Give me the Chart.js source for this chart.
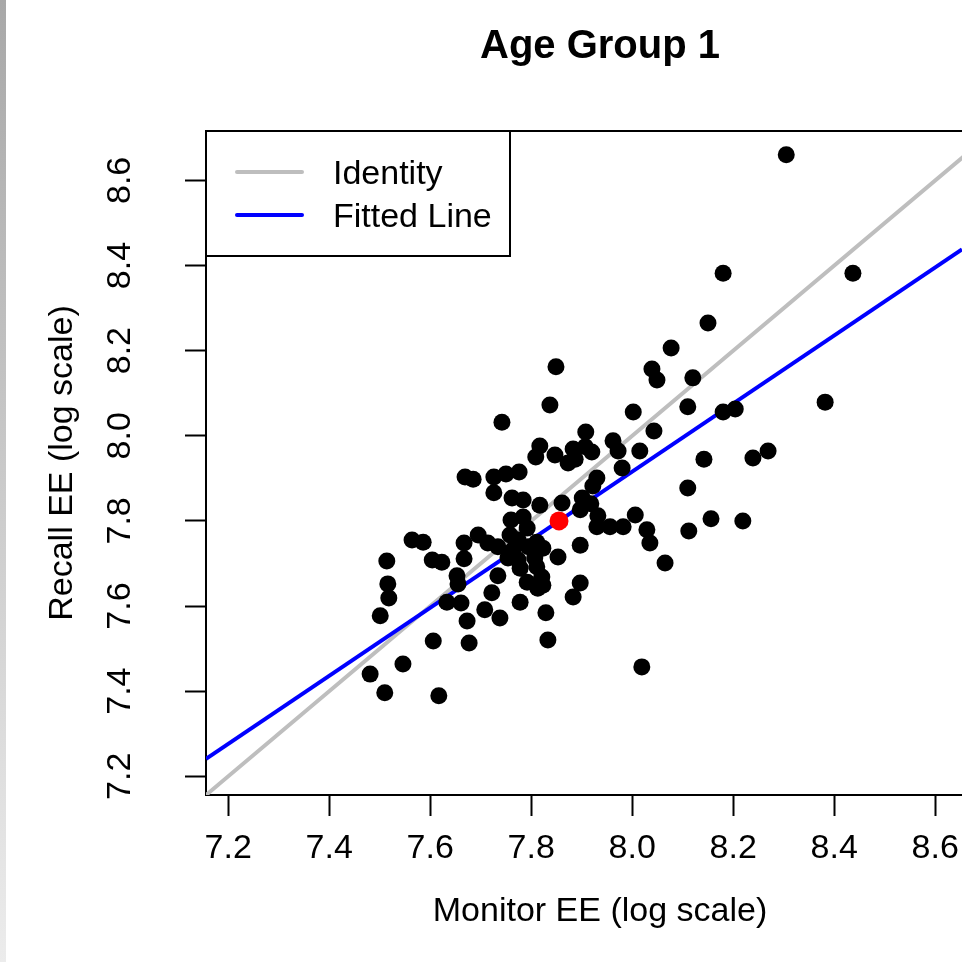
<!DOCTYPE html>
<html lang="en">
<head>
    <meta charset="UTF-8">
    <title>Age Group 1</title>
    <script src="https://cdn.jsdelivr.net/npm/chart.js"></script>
    <style>
        html, body {
            margin: 0;
            padding: 0;
            background: #fff;
        }
        canvas {
            display: block;
        }
    </style>
</head>
<body>
    <canvas id="myChart" width="962" height="962"></canvas>

    <script>
        // values (log scale)
        const monitorEE = [
            8.305, 8.437, 8.180, 8.150, 8.077, 7.849, 8.039, 8.049, 8.120, 7.837,
            7.742, 8.382, 8.180, 8.204, 8.110, 8.002, 8.043, 7.908, 7.817, 7.809,
            7.847, 7.883, 7.907, 7.920, 7.887, 7.873, 7.962, 7.972, 8.015, 8.142,
            8.239, 8.269, 7.980, 7.930, 7.922, 8.110, 7.669, 7.685, 7.726, 7.750,
            7.776, 7.726, 7.762, 7.784, 7.817, 7.861, 7.901, 7.918, 7.897, 7.932,
            7.760, 7.784, 7.792, 8.006, 8.156, 8.219, 7.930, 7.956, 7.982, 8.029,
            8.035, 8.112, 7.897, 7.853, 8.065, 7.897, 7.883, 7.829, 7.833, 8.019,
            7.564, 7.586, 7.604, 7.623, 7.667, 7.695, 7.714, 7.734, 7.667, 7.758,
            7.774, 7.764, 7.794, 7.811, 7.823, 7.754, 7.774, 7.807, 7.778, 7.811,
            7.821, 7.734, 7.653, 7.655, 7.792, 7.823, 7.813, 7.722, 7.778, 7.633,
            7.661, 7.708, 7.738, 7.673, 7.514, 7.516, 7.518, 7.501, 7.606, 7.677,
            7.546, 7.481, 7.510, 7.617
        ];
        const recallEE = [
            8.660, 8.382, 8.382, 8.265, 8.206, 8.162, 8.157, 8.131, 8.136, 8.072,
            8.032, 8.079, 8.056, 8.063, 8.068, 8.056, 8.011, 8.009, 7.976, 7.950,
            7.955, 7.969, 7.974, 7.962, 7.945, 7.936, 7.988, 7.964, 7.964, 7.945,
            7.948, 7.964, 7.924, 7.901, 7.882, 7.877, 7.903, 7.898, 7.903, 7.910,
            7.915, 7.866, 7.854, 7.849, 7.837, 7.842, 7.854, 7.840, 7.826, 7.812,
            7.802, 7.809, 7.783, 7.814, 7.805, 7.800, 7.786, 7.786, 7.786, 7.779,
            7.748, 7.776, 7.743, 7.715, 7.701, 7.654, 7.621, 7.584, 7.520, 7.457,
            7.755, 7.750, 7.708, 7.703, 7.748, 7.767, 7.748, 7.739, 7.711, 7.767,
            7.755, 7.732, 7.739, 7.750, 7.736, 7.713, 7.708, 7.713, 7.689, 7.692,
            7.668, 7.671, 7.671, 7.652, 7.656, 7.649, 7.642, 7.631, 7.609, 7.609,
            7.607, 7.591, 7.572, 7.565, 7.706, 7.652, 7.619, 7.577, 7.518, 7.513,
            7.464, 7.440, 7.396, 7.389
        ];
        const meanX = [7.855];
        const meanY = [7.800];

        const identityX = [7.156, 8.716];
        const identityY = [7.156, 8.716];
        const fittedX = [7.156, 8.653];
        const fittedY = [7.241, 8.438];

        const xTicks = [7.2, 7.4, 7.6, 7.8, 8.0, 8.2, 8.4, 8.6];
        const yTicks = [7.2, 7.4, 7.6, 7.8, 8.0, 8.2, 8.4, 8.6];
        // the plot box runs past the right edge of the picture, so x stops at 8.653
        const xLimits = [7.156, 8.653];
        const yLimits = [7.156, 8.716];

        const legendLabels = ['Identity', 'Fitted Line'];
        const legendColors = ['#BEBEBE', '#0000FF'];

        const FONT = '"Liberation Sans", Arial, Helvetica, sans-serif';
        const PLOT_CENTER_X = 600; // centre of the uncropped plot box

        const toPoints = (xs, ys) => xs.map((x, i) => ({ x: x, y: ys[i] }));

        // R-style extras: titles, top border, rotated y labels, legend box, grey strip
        const rStyle = {
            id: 'rStyle',
            beforeDraw(chart) {
                const ctx = chart.ctx;
                const g = ctx.createLinearGradient(0, 0, 0, chart.height);
                g.addColorStop(0, '#a8a8a8');
                g.addColorStop(1, '#ececec');
                ctx.save();
                ctx.fillStyle = g;
                ctx.fillRect(0, 0, 6, chart.height);
                ctx.restore();
            },
            afterDraw(chart) {
                const ctx = chart.ctx;
                const area = chart.chartArea;
                const yScale = chart.scales.y;

                ctx.save();
                ctx.fillStyle = '#000';
                ctx.textAlign = 'center';
                ctx.textBaseline = 'middle';
                ctx.font = 'bold 40px ' + FONT;
                ctx.fillText('Age Group 1', PLOT_CENTER_X, 47);
                ctx.font = '34px ' + FONT;
                ctx.fillText('Monitor EE (log scale)', PLOT_CENTER_X, 912);

                ctx.strokeStyle = '#000';
                ctx.lineWidth = 2;
                ctx.beginPath();
                ctx.moveTo(area.left, area.top);
                ctx.lineTo(area.right, area.top);
                ctx.stroke();

                // y tick labels, parallel to the axis
                yTicks.forEach(v => {
                    const py = yScale.getPixelForValue(v);
                    ctx.save();
                    ctx.translate(121, py);
                    ctx.rotate(-Math.PI / 2);
                    ctx.fillText(v.toFixed(1), 0, 0);
                    ctx.restore();
                });

                // legend
                const lx = area.left, ly = area.top, lw = 304, lh = 125;
                ctx.strokeStyle = '#000';
                ctx.lineWidth = 2;
                ctx.strokeRect(lx, ly, lw, lh);
                ctx.textAlign = 'left';
                legendLabels.forEach((txt, i) => {
                    const cy = ly + 41 + i * 43;
                    ctx.strokeStyle = legendColors[i];
                    ctx.lineWidth = 4;
                    ctx.lineCap = 'round';
                    ctx.beginPath();
                    ctx.moveTo(lx + 31, cy);
                    ctx.lineTo(lx + 96, cy);
                    ctx.stroke();
                    ctx.fillText(txt, lx + 127, cy + 3);
                });
                ctx.restore();
            }
        };

        const ctx = document.getElementById('myChart').getContext('2d');
        const myChart = new Chart(ctx, {
            type: 'scatter',
            data: {
                datasets: [
                    {
                        label: 'Mean',
                        data: toPoints(meanX, meanY),
                        backgroundColor: '#FF0000',
                        borderWidth: 0,
                        pointRadius: 9.5
                    },
                    {
                        label: 'Observations',
                        data: toPoints(monitorEE, recallEE),
                        backgroundColor: '#000000',
                        borderWidth: 0,
                        pointRadius: 8.5
                    },
                    {
                        label: 'Fitted Line',
                        data: toPoints(fittedX, fittedY),
                        showLine: true,
                        borderColor: '#0000FF',
                        borderWidth: 4,
                        pointRadius: 0
                    },
                    {
                        label: 'Identity',
                        data: toPoints(identityX, identityY),
                        showLine: true,
                        borderColor: '#BEBEBE',
                        borderWidth: 4,
                        pointRadius: 0
                    }
                ]
            },
            options: {
                responsive: false,
                animation: false,
                devicePixelRatio: 1,
                layout: {
                    autoPadding: false,
                    padding: { top: 131, right: 0, bottom: 0, left: 0 }
                },
                plugins: {
                    legend: { display: false },
                    tooltip: { enabled: false },
                    title: { display: false }
                },
                scales: {
                    x: {
                        type: 'linear',
                        min: xLimits[0],
                        max: xLimits[1],
                        afterBuildTicks: (s) => { s.ticks = xTicks.map(v => ({ value: v })); },
                        afterFit: (s) => {
                            s.height = 167;
                            s.paddingLeft = 0;
                            s.paddingRight = 0;
                        },
                        ticks: {
                            color: '#000',
                            font: { family: FONT, size: 34 },
                            padding: 12,
                            maxRotation: 0,
                            autoSkip: false,
                            callback: (v) => Number(v).toFixed(1)
                        },
                        grid: {
                            drawOnChartArea: false,
                            drawTicks: true,
                            tickLength: 21,
                            tickColor: '#000',
                            tickWidth: 2
                        },
                        border: { display: true, color: '#000', width: 2 },
                        title: { display: false }
                    },
                    y: {
                        type: 'linear',
                        min: yLimits[0],
                        max: yLimits[1],
                        afterBuildTicks: (s) => { s.ticks = yTicks.map(v => ({ value: v })); },
                        afterFit: (s) => {
                            s.width = 206;
                            s.paddingTop = 0;
                            s.paddingBottom = 0;
                        },
                        ticks: { display: false },
                        grid: {
                            drawOnChartArea: false,
                            drawTicks: true,
                            tickLength: 21,
                            tickColor: '#000',
                            tickWidth: 2
                        },
                        border: { display: true, color: '#000', width: 2 },
                        title: {
                            display: true,
                            text: 'Recall EE (log scale)',
                            color: '#000',
                            font: { family: FONT, size: 34 },
                            padding: { top: 42, bottom: 0 }
                        }
                    }
                }
            },
            plugins: [rStyle]
        });
    </script>
</body>
</html>
